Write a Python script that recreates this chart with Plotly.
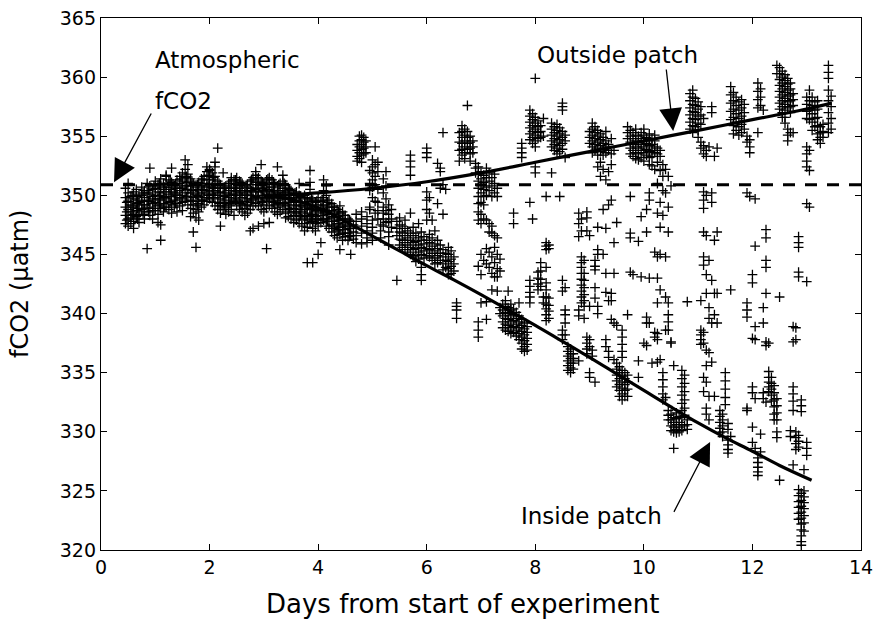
import plotly.graph_objects as go

# ---------------- data ----------------
# Each streak: (day, [fCO2 values in uatm]) -- measurements are plotted as "+" markers.
band_streaks = [
    (0.45, [350.6, 349.8, 349.0, 348.3, 347.6]),
    (0.50, [350.2, 349.5, 348.8, 348.0, 347.4, 351.0]),
    (0.55, [349.9, 349.2, 348.6, 348.1, 347.6]),
    (0.60, [350.3, 349.7, 349.0, 348.4, 347.8, 347.2]),
    (0.65, [350.5, 349.9, 349.3, 348.7, 348.2]),
    (0.70, [350.1, 349.4, 348.9, 348.3, 347.7]),
    (0.75, [350.7, 350.0, 349.5, 348.8]),
    (0.80, [350.4, 349.8, 349.2, 348.6, 348.0]),
    (0.85, [351.0, 350.2, 349.6, 349.0, 345.5]),
    (0.90, [350.8, 350.1, 349.5, 348.9, 348.3, 352.3]),
    (0.95, [350.5, 349.9, 349.3, 348.7, 348.0]),
    (1.00, [351.2, 350.6, 350.0, 349.4, 348.7]),
    (1.05, [350.9, 350.3, 349.7, 349.1, 348.4, 347.7]),
    (1.10, [351.4, 350.8, 350.2, 349.6, 348.9, 346.2, 347.5]),
    (1.15, [351.0, 350.5, 349.9, 349.3, 348.6]),
    (1.20, [351.6, 350.9, 350.3, 349.7, 349.0, 351.7]),
    (1.25, [351.3, 350.7, 350.1, 349.4, 348.8]),
    (1.30, [351.1, 350.5, 349.9, 349.2, 348.5, 352.3]),
    (1.35, [350.8, 350.2, 349.6, 349.0]),
    (1.40, [351.3, 350.6, 350.0, 349.3, 348.6]),
    (1.45, [351.6, 351.0, 350.4, 349.8, 349.1]),
    (1.50, [351.9, 351.2, 350.6, 350.0, 349.4, 348.7]),
    (1.55, [352.2, 351.5, 350.8, 350.2, 349.5, 353.0]),
    (1.60, [351.8, 351.1, 350.5, 349.9, 349.2, 352.6]),
    (1.65, [351.4, 350.8, 350.2, 349.6, 348.9, 348.2]),
    (1.70, [351.0, 350.4, 349.8, 349.2, 348.5, 346.9]),
    (1.75, [350.7, 350.1, 349.5, 348.8, 348.1, 345.6]),
    (1.80, [351.1, 350.5, 349.9, 349.3, 348.6, 347.9]),
    (1.85, [351.4, 350.8, 350.2, 349.6, 349.0]),
    (1.90, [351.6, 351.0, 350.4, 349.8, 349.2]),
    (1.95, [352.0, 351.3, 350.7, 350.1, 349.5, 352.4]),
    (2.00, [352.2, 351.6, 350.9, 350.3, 349.7, 352.1]),
    (2.05, [351.9, 351.3, 350.7, 350.1, 349.4]),
    (2.10, [351.6, 351.0, 350.4, 349.8, 349.1, 352.8, 352.4]),
    (2.15, [351.2, 350.6, 350.0, 349.4, 348.8, 354.0]),
    (2.20, [350.9, 350.3, 349.7, 349.1, 348.5, 347.4]),
    (2.25, [350.6, 350.0, 349.4, 348.8, 351.9]),
    (2.30, [350.8, 350.2, 349.6, 349.0, 348.4]),
    (2.35, [351.0, 350.4, 349.8, 349.2, 348.6]),
    (2.40, [351.2, 350.6, 350.0, 349.4, 348.8, 351.5]),
    (2.45, [351.3, 350.7, 350.1, 349.5, 348.3]),
    (2.50, [351.5, 350.9, 350.3, 349.7, 349.1]),
    (2.55, [351.2, 350.6, 350.0, 349.4, 348.8]),
    (2.60, [351.0, 350.4, 349.8, 349.2, 348.6]),
    (2.65, [350.7, 350.1, 349.5, 348.9, 348.3]),
    (2.70, [350.9, 350.3, 349.7, 349.1, 348.5]),
    (2.75, [351.2, 350.6, 350.0, 349.4, 348.8, 347.0]),
    (2.80, [351.5, 350.9, 350.3, 349.7, 349.1, 347.2]),
    (2.85, [351.7, 351.1, 350.5, 349.9, 349.3, 352.0]),
    (2.90, [351.5, 350.9, 350.3, 349.7, 349.1, 347.4]),
    (2.95, [351.2, 350.6, 350.0, 349.4, 348.8, 352.6]),
    (3.00, [351.0, 350.4, 349.8, 349.2, 348.6, 347.6]),
    (3.05, [351.3, 350.7, 350.1, 349.5, 348.9, 345.5]),
    (3.10, [351.5, 350.9, 350.3, 349.7, 349.1, 347.7]),
    (3.15, [351.3, 350.7, 350.1, 349.5, 348.9]),
    (3.20, [351.0, 350.4, 349.8, 349.2, 348.6]),
    (3.25, [350.8, 350.2, 349.6, 349.0, 348.4, 352.4]),
    (3.30, [351.0, 350.4, 349.8, 349.2, 348.6]),
    (3.35, [351.2, 350.6, 350.0, 349.4, 348.8, 351.7]),
    (3.40, [350.9, 350.3, 349.7, 349.1, 348.5, 348.1]),
    (3.45, [350.6, 350.0, 349.4, 348.8, 348.2]),
    (3.50, [350.4, 349.8, 349.2, 348.6, 348.0]),
    (3.55, [350.1, 349.5, 348.9, 348.3, 347.7]),
    (3.60, [350.3, 349.7, 349.1, 348.5, 347.9]),
    (3.65, [350.0, 349.4, 348.8, 348.2, 347.6, 351.0]),
    (3.70, [349.8, 349.2, 348.6, 348.0, 347.4]),
    (3.75, [350.0, 349.4, 348.8, 348.2, 347.6, 347.0]),
    (3.80, [349.7, 349.1, 348.5, 347.9, 347.3, 344.3]),
    (3.85, [350.5, 349.5, 348.9, 348.3, 347.7, 352.1, 351.1]),
    (3.90, [349.6, 349.0, 348.4, 347.8, 347.2, 344.3]),
    (3.95, [349.4, 348.8, 348.2, 347.6, 347.0]),
    (4.00, [349.8, 349.2, 348.6, 348.0, 347.4, 345.0]),
    (4.05, [349.5, 348.9, 348.3, 347.7, 346.0]),
    (4.10, [350.4, 349.8, 349.1, 348.5, 347.9, 351.3]),
    (4.15, [350.8, 350.0, 349.2, 348.6, 348.0, 347.4]),
    (4.20, [349.6, 349.0, 348.4, 347.8, 347.2]),
    (4.25, [349.3, 348.7, 348.1, 347.5, 346.9]),
    (4.30, [349.0, 348.4, 347.8, 347.2, 346.6]),
    (4.35, [348.8, 348.2, 347.6, 347.0, 346.4]),
    (4.40, [349.1, 348.5, 347.9, 347.3, 346.7, 345.4]),
    (4.45, [348.6, 348.0, 347.4, 346.8, 346.2]),
    (4.50, [348.3, 347.7, 347.1, 346.5]),
    (4.55, [348.0, 347.4, 346.8, 346.2]),
    (4.60, [347.8, 347.2, 346.6, 345.0]),
    (4.65, [347.5, 346.9, 346.3]),
]

# extra readings inside the dense early band (between the streaks above)
band_fill_streaks = [
    (0.475, [349.4, 348.6, 347.9]),
    (0.575, [350.0, 349.1, 348.3]),
    (0.675, [349.6, 348.9, 348.0]),
    (0.775, [350.2, 349.2, 348.4]),
    (0.875, [350.4, 349.5, 348.6]),
    (0.975, [350.8, 349.7, 348.9]),
    (1.075, [351.0, 350.0, 349.2]),
    (1.175, [350.7, 349.8, 349.0]),
    (1.275, [351.2, 350.3, 349.5]),
    (1.375, [351.0, 350.1, 349.3]),
    (1.475, [351.4, 350.6, 349.7]),
    (1.575, [351.6, 350.8, 349.9]),
    (1.675, [351.2, 350.4, 349.5]),
    (1.775, [350.9, 350.0, 349.1]),
    (1.875, [351.3, 350.5, 349.6]),
    (1.975, [351.7, 350.8, 350.0]),
    (2.075, [351.5, 350.6, 349.8]),
    (2.175, [351.0, 350.2, 349.3]),
    (2.275, [350.7, 349.9, 349.1]),
    (2.375, [351.0, 350.1, 349.3]),
    (2.475, [351.3, 350.4, 349.6]),
    (2.575, [351.1, 350.2, 349.3]),
    (2.675, [350.8, 350.0, 349.2]),
    (2.775, [351.3, 350.4, 349.6]),
    (2.875, [351.4, 350.6, 349.8]),
    (2.975, [351.1, 350.3, 349.5]),
    (3.075, [351.4, 350.5, 349.7]),
    (3.175, [351.1, 350.3, 349.4]),
    (3.275, [350.9, 350.1, 349.3]),
    (3.375, [351.0, 350.2, 349.3]),
    (3.475, [350.5, 349.7, 348.9]),
    (3.575, [350.2, 349.4, 348.6]),
    (3.675, [349.9, 349.1, 348.3]),
    (3.775, [349.8, 349.0, 348.2]),
    (3.875, [349.7, 348.8, 348.0]),
    (3.975, [349.5, 348.7, 347.9]),
    (4.075, [349.6, 348.8, 348.0]),
    (4.175, [349.4, 348.6, 347.8]),
    (4.275, [349.0, 348.2, 347.4]),
    (4.375, [348.6, 347.9, 347.1]),
    (4.475, [348.3, 347.5, 346.8]),
    (4.575, [347.9, 347.2, 346.5]),
]

mid_streaks = [
    (4.70, [348.4, 347.8, 347.2, 346.6, 346.0]),
    (4.72, [354.3, 353.8, 353.3, 352.9]),
    (4.76, [355.0, 354.6, 354.1, 353.6, 353.1]),
    (4.80, [355.1, 354.7, 354.3, 353.9, 353.4, 352.8, 348.6, 348.0, 347.4, 346.8, 345.9]),
    (4.84, [354.9, 354.5, 354.0, 353.5]),
    (4.88, [354.6, 354.1, 353.6]),
    (4.90, [348.2, 347.6, 347.0, 346.4, 346.0]),
    (4.95, [352.1, 351.0, 350.4, 349.0, 348.8]),
    (5.00, [353.0, 352.4, 351.9, 351.3, 350.7, 349.8, 347.9, 347.3, 346.8, 346.2]),
    (5.05, [354.1, 352.6, 351.6, 350.9, 349.5, 348.5]),
    (5.10, [352.8, 352.0, 350.5, 349.4, 348.7, 348.0]),
    (5.15, [347.5, 347.0, 346.4]),
    (5.20, [351.4, 350.2, 349.0, 348.5, 348.0, 347.4]),
    (5.25, [352.0, 350.8, 349.7, 348.7, 347.7]),
    (5.30, [349.2, 348.4, 347.8, 346.9, 346.5, 345.8]),
    (5.35, [348.8, 348.0, 347.3]),
    (5.45, [347.8, 347.2, 346.6, 342.8]),
    (5.50, [348.1, 347.5, 346.9, 346.3, 345.8]),
    (5.55, [347.4, 346.8, 346.2, 345.6]),
    (5.60, [347.9, 347.2, 346.6, 346.0, 345.4]),
    (5.65, [347.0, 346.4, 345.8, 345.2]),
    (5.70, [353.4, 352.9, 352.4, 351.7, 348.5, 346.8, 346.2, 345.6, 345.0]),
    (5.75, [347.3, 346.6, 346.0, 345.4, 344.8]),
    (5.80, [346.8, 346.1, 345.5, 344.9, 344.4]),
    (5.85, [347.6, 346.4, 345.8, 345.2, 344.6]),
    (5.90, [346.9, 346.2, 345.6, 345.0, 343.9, 343.3, 342.8]),
    (5.95, [346.5, 345.9, 345.3, 344.7]),
    (6.00, [354.0, 353.6, 353.2, 350.3, 349.6, 348.8, 347.9, 346.2, 345.5, 344.9]),
    (6.05, [349.8, 348.5, 346.7, 346.0, 345.4, 344.8]),
    (6.10, [347.9, 346.4, 345.7, 345.1, 344.5]),
    (6.15, [347.0, 345.9, 345.3, 344.7, 344.2]),
    (6.20, [352.7, 349.3, 346.2, 345.5, 344.9, 344.3]),
    (6.25, [352.3, 352.0, 350.6, 345.8, 345.1, 344.5]),
    (6.30, [355.3, 350.9, 348.4, 345.4, 344.8, 344.2, 343.7]),
    (6.35, [350.5, 345.1, 344.5, 343.9]),
    (6.40, [345.6, 345.0, 344.4, 343.8, 343.3]),
    (6.45, [345.3, 344.6, 344.0, 343.4]),
    (6.50, [344.8, 344.2, 343.6]),
    (6.55, [340.9, 340.6, 340.3, 339.6]),
    (6.60, [355.3, 354.5, 353.8, 352.9]),
    (6.65, [355.9, 355.4, 354.9, 354.4, 353.9, 353.4]),
    (6.70, [355.6, 355.1, 354.6, 354.1, 353.6, 353.1]),
    (6.75, [357.6, 355.4, 354.9, 354.4, 353.9]),
    (6.80, [355.0, 354.5, 354.0, 353.5, 352.9]),
    (6.85, [354.6, 354.1, 353.6]),
    (6.90, [352.7, 352.3, 351.9]),
    (6.95, [352.4, 351.8, 351.2, 350.6, 349.9, 349.3, 348.6, 347.9, 344.0, 339.3, 338.6, 338.0]),
    (7.00, [352.0, 351.4, 350.8, 350.2, 349.4, 348.4, 347.6, 345.0, 343.3, 340.9]),
    (7.05, [351.7, 351.1, 350.5, 349.9, 349.2, 348.0, 344.5]),
    (7.10, [352.3, 351.5, 350.7, 350.0, 347.9, 345.5, 344.2, 341.0, 339.5]),
    (7.15, [351.9, 351.2, 350.4, 347.6, 346.9, 345.2, 343.9]),
    (7.20, [351.5, 350.8, 349.9, 347.4, 346.8, 344.8, 343.4, 342.0]),
    (7.25, [351.8, 351.0, 350.2, 346.6, 345.6, 344.3, 343.1]),
    (7.30, [350.6, 349.9, 346.4, 345.0, 343.8, 343.1, 341.9]),
    (7.35, [344.6, 343.6, 340.5, 340.0]),
]

late_streaks = [
    (7.40, [340.8, 340.3, 339.8, 339.3, 338.8]),
    (7.45, [341.1, 340.6, 340.1, 339.6, 339.1, 338.6]),
    (7.50, [340.5, 340.0, 339.5, 339.0, 338.5, 341.9]),
    (7.55, [340.8, 340.3, 339.8, 339.3, 338.8, 338.3]),
    (7.60, [340.4, 339.9, 339.4, 338.9, 338.4, 348.5, 347.6]),
    (7.65, [340.1, 339.6, 339.1, 338.6, 338.1]),
    (7.70, [340.9, 339.8, 339.3, 338.8, 338.3, 337.8]),
    (7.75, [339.5, 339.0, 338.5, 338.0, 337.5, 337.0, 354.4, 354.0, 353.6, 353.2]),
    (7.80, [339.2, 338.7, 338.2, 337.7, 337.2, 336.8]),
    (7.85, [338.9, 338.4, 337.9, 337.4, 336.9]),
    (7.90, [342.8, 342.3, 341.8, 341.4, 340.9, 349.4, 357.2, 356.7, 356.2, 355.7, 355.2, 354.7]),
    (7.95, [356.9, 356.4, 355.9, 355.4, 354.9, 354.4, 348.0]),
    (8.00, [359.9, 356.6, 356.1, 355.6, 355.1, 354.6, 354.1, 352.4, 351.9]),
    (8.05, [356.3, 355.8, 355.3, 354.8, 343.5, 343.0, 342.5, 342.0]),
    (8.10, [355.9, 355.4, 354.9, 344.3, 343.6, 342.9, 342.3]),
    (8.15, [356.5, 355.0, 341.4, 340.9]),
    (8.20, [349.9, 346.0, 345.7, 345.4, 343.9, 342.6, 342.0, 341.4, 340.8, 340.4, 339.9, 339.4]),
    (8.25, [341.3, 340.7, 340.2, 339.6, 345.8, 345.5]),
    (8.30, [356.1, 355.6, 355.1, 354.6, 354.1, 351.9]),
    (8.35, [355.8, 355.3, 354.8, 354.3, 353.8]),
    (8.40, [356.0, 355.5, 355.0, 354.5, 354.0, 353.5]),
    (8.45, [355.7, 355.2, 354.7, 354.2, 353.7, 349.9]),
    (8.50, [357.8, 357.5, 357.2, 355.4, 354.9, 354.4, 353.9, 342.8, 341.9, 338.6, 338.2, 337.8]),
    (8.55, [355.1, 354.6, 353.2, 342.2, 340.3, 339.9, 339.2, 338.2]),
    (8.60, [337.2, 336.8, 336.4, 336.0, 335.6, 335.2]),
    (8.65, [337.0, 336.6, 336.2, 335.8, 335.4, 335.0]),
    (8.70, [336.6, 336.2, 335.8, 335.3]),
    (8.80, [348.5, 347.6, 346.5, 340.3, 339.8, 336.0]),
    (8.85, [344.8, 344.3, 343.9, 343.4, 342.9, 342.4, 341.9, 341.4, 340.9, 348.0, 347.0]),
    (8.90, [344.5, 343.4, 342.8, 342.2, 341.6, 341.1, 340.6, 339.6]),
    (8.95, [348.6, 348.1, 347.0, 338.0, 337.5, 337.0, 336.6]),
    (9.00, [355.4, 354.9, 354.4, 346.6, 340.6, 337.8, 337.2, 335.0, 334.6]),
    (9.05, [356.1, 355.6, 355.1, 354.6, 354.1, 353.6, 336.9, 336.4]),
    (9.10, [355.8, 355.3, 354.8, 354.3, 353.8, 344.5, 344.0, 343.7, 342.2, 341.3, 334.2]),
    (9.15, [355.5, 355.0, 354.5, 354.0, 353.4, 352.4, 347.3, 345.4, 345.0, 340.6, 340.0]),
    (9.20, [355.2, 354.7, 354.2, 353.7, 352.8, 351.6]),
    (9.25, [354.9, 354.4, 353.9, 353.4, 352.2, 348.8, 345.0]),
    (9.30, [355.4, 354.6, 354.1, 353.6, 351.3, 347.2, 343.4, 341.8, 337.8, 337.2]),
    (9.35, [354.3, 353.8, 352.0, 349.2, 341.1, 336.8, 336.3]),
    (9.40, [354.8, 353.5, 352.6, 349.6, 341.7, 341.1, 339.5]),
    (9.45, [353.8, 346.0, 343.4, 339.2, 336.1]),
    (9.50, [347.7, 339.0, 335.8, 335.3, 334.8, 334.3, 333.8]),
    (9.55, [335.5, 335.0, 334.5, 334.0, 333.5, 333.0]),
    (9.60, [338.6, 338.0, 337.4, 336.8, 336.3, 335.2, 334.7, 334.2, 333.7, 333.2, 332.7]),
    (9.65, [335.0, 334.5, 334.0, 333.5, 333.0]),
    (9.70, [355.8, 355.3, 354.8, 339.9, 334.8, 334.2, 333.6, 333.0]),
    (9.75, [355.5, 355.0, 354.5, 354.0, 353.5, 349.9, 346.8, 346.4, 343.5]),
    (9.80, [355.3, 354.8, 354.3, 353.8, 353.3, 343.3]),
    (9.85, [355.6, 355.1, 354.6, 354.1, 353.6, 353.1]),
    (9.90, [355.0, 354.5, 354.0, 353.5, 353.0, 346.1, 336.0, 334.6]),
    (9.95, [355.3, 354.8, 354.3, 353.8, 353.2, 348.2, 343.1]),
    (10.00, [355.6, 355.1, 354.6, 354.1, 353.6, 352.9, 337.5]),
    (10.05, [354.9, 354.4, 353.9, 353.4, 348.8, 346.9, 339.7, 339.2, 337.3]),
    (10.10, [355.2, 354.7, 354.2, 353.7, 353.2, 352.6, 350.2, 349.6, 343.0, 339.2]),
    (10.15, [354.8, 354.3, 353.8, 353.3, 352.5, 335.8]),
    (10.20, [355.1, 354.6, 354.1, 353.6, 352.2, 345.2, 338.4, 338.0]),
    (10.25, [354.0, 353.5, 352.8, 351.0, 348.5, 344.8, 343.0, 340.9, 338.3, 337.8, 335.9]),
    (10.30, [353.8, 353.3, 352.1, 349.4, 347.3, 345.0, 342.0, 336.1]),
    (10.35, [352.6, 351.6, 350.4, 348.3, 335.0, 334.4, 333.8, 333.2, 332.7]),
    (10.40, [352.2, 350.2, 344.8, 341.4, 338.6, 332.9]),
    (10.45, [351.6, 349.0, 346.9, 340.9, 339.9, 339.3, 338.6, 331.8, 331.4, 331.0]),
    (10.50, [350.8, 337.5, 337.6, 331.5, 331.0, 330.5, 330.1]),
    (10.55, [335.6, 331.2, 330.8, 330.4, 330.0, 328.6]),
    (10.60, [331.6, 331.1, 330.6, 330.2, 329.9]),
    (10.65, [331.3, 330.8, 330.4, 330.0]),
    (10.70, [335.2, 334.5, 333.8, 333.1, 332.4, 331.8, 331.2, 330.6, 330.1]),
    (10.75, [334.8, 334.1, 333.4, 332.7, 332.0, 331.4, 330.5]),
    (10.80, [341.0, 331.0, 330.6, 330.2]),
]

east_streaks = [
    (10.85, [358.6, 358.0, 357.4, 356.8, 356.2, 355.6]),
    (10.90, [358.9, 358.3, 357.7, 357.1, 356.5, 355.9, 355.3]),
    (10.95, [358.2, 357.6, 357.0, 356.4, 355.8]),
    (11.00, [357.9, 357.3, 356.7, 356.1, 355.5, 354.9]),
    (11.05, [357.5, 356.8, 356.0, 354.5, 354.0, 341.1, 338.6, 338.2, 337.8, 337.4]),
    (11.10, [356.5, 354.2, 353.5, 350.3, 349.6, 348.9, 346.9, 344.8, 344.1, 338.4, 337.5, 334.6, 333.4]),
    (11.15, [353.8, 353.3, 350.0, 346.6, 343.3, 341.7, 336.9, 335.6, 334.2, 332.0, 331.5]),
    (11.20, [354.1, 344.5, 340.5, 339.6, 336.7, 333.0, 331.0]),
    (11.25, [357.5, 357.0, 350.2, 349.4, 342.8, 339.2, 335.9]),
    (11.30, [353.3, 346.2, 341.7, 339.9, 333.0]),
    (11.35, [354.0, 346.9, 341.7, 339.2]),
    (11.40, [331.8, 331.3, 330.8, 330.3, 329.9]),
    (11.45, [331.5, 331.0, 330.5, 330.0, 329.6]),
    (11.50, [335.0, 334.3, 333.6, 332.9, 332.3]),
    (11.55, [329.3, 328.9, 328.5, 328.2, 330.7, 330.2]),
    (11.60, [359.2, 358.5, 357.8, 357.1, 356.4, 342.0, 329.6]),
    (11.65, [358.7, 358.0, 357.3, 356.6, 355.9, 355.2]),
    (11.70, [358.3, 357.6, 356.9, 356.2, 355.5]),
    (11.75, [357.9, 357.2, 356.5, 355.8, 355.1]),
    (11.80, [358.1, 357.4, 356.7, 356.0, 355.3]),
    (11.85, [357.7, 357.0, 356.3, 355.6]),
    (11.90, [355.0, 354.5, 350.2, 340.9, 340.3, 339.7, 332.0, 331.8]),
    (11.95, [354.7, 354.1, 353.6, 349.9]),
    (12.00, [343.3, 342.6, 337.9, 333.8, 333.3, 330.4, 329.1]),
    (12.05, [349.7, 345.7, 338.9, 337.8, 332.8, 328.6]),
    (12.10, [359.5, 358.8, 358.1, 357.4, 355.3, 327.8, 327.4, 327.0, 326.6, 326.3]),
    (12.15, [359.0, 358.3, 357.6, 329.8, 328.3]),
    (12.20, [357.2, 340.5, 339.2, 333.3, 332.8]),
    (12.25, [347.1, 346.4, 344.5, 343.9, 341.7, 337.6, 337.3, 332.5]),
    (12.30, [335.1, 334.6, 334.2, 333.8, 333.4, 337.5]),
    (12.35, [334.6, 334.1, 333.6, 333.1, 332.6]),
    (12.40, [333.9, 333.3, 332.7, 332.1, 331.5, 331.0]),
    (12.45, [332.8, 332.2, 331.6, 331.0, 330.0, 329.5, 361.0, 360.3]),
    (12.50, [360.8, 360.3, 359.8, 359.3, 358.8, 358.3, 357.8, 357.3, 341.4, 325.9]),
    (12.55, [360.5, 360.0, 359.5, 359.0, 358.5, 358.0, 357.5, 357.0, 356.6]),
    (12.60, [360.2, 359.7, 359.2, 358.7, 358.2, 357.7, 357.2, 356.6, 356.1]),
    (12.65, [359.9, 359.4, 358.9, 358.4, 357.9, 357.4, 355.6, 355.1, 354.6]),
    (12.70, [359.5, 359.0, 358.5, 358.0, 357.5, 357.0, 355.3, 330.1, 329.6]),
    (12.75, [358.6, 358.1, 357.6, 355.3, 333.8, 333.2, 332.6, 331.8, 338.9, 337.6, 327.2]),
    (12.80, [330.0, 329.5, 329.0, 328.5, 338.8, 337.8]),
    (12.85, [346.5, 346.0, 345.6, 343.5, 343.1, 329.7, 329.2, 328.7, 325.1, 324.6, 324.1, 323.6, 323.1, 322.6]),
    (12.90, [332.7, 332.2, 331.7, 324.8, 324.2, 323.7, 323.2, 322.7, 322.2, 321.7, 321.2, 320.7, 320.4]),
    (12.95, [325.0, 324.5, 324.0, 323.5, 322.9, 322.3, 321.6, 326.8]),
    (13.00, [354.1, 353.5, 352.9, 352.4, 349.3, 342.7, 329.1, 328.6, 328.0, 358.3, 357.7, 357.1, 356.5]),
    (13.05, [353.8, 352.1, 349.0, 358.9, 358.0, 357.2, 356.4]),
    (13.10, [358.3, 357.6, 356.9, 356.2, 355.5]),
    (13.15, [357.9, 357.2, 356.5, 355.8]),
    (13.20, [358.0, 357.3, 356.6, 355.9, 355.2, 354.7]),
    (13.25, [355.8, 355.3, 354.9, 354.4]),
    (13.30, [356.0, 355.4, 354.9]),
    (13.40, [361.0, 360.4, 359.9, 358.9, 358.0, 357.0, 356.1, 355.3]),
    (13.45, [358.4, 357.5, 356.5, 355.6]),
]

# Fitted curves
outside_days = [3.0, 4.0, 5.0, 6.0, 7.0, 8.0, 9.0, 10.0, 11.0, 12.0, 13.0, 13.46]
outside_fco2 = [349.9, 350.2, 350.6, 351.15, 351.9, 352.8, 353.7, 354.6, 355.5, 356.4, 357.3, 357.8]

inside_days = [3.0, 3.5, 4.0, 4.5, 5.0, 5.5, 6.0, 6.5, 7.0, 7.5, 8.0, 8.5, 9.0, 9.5,
               10.0, 10.5, 11.0, 11.5, 12.0, 12.5, 13.09]
inside_fco2 = [349.95, 349.65, 348.95, 347.8, 346.55, 345.3, 344.05, 342.85, 341.6, 340.3,
               339.0, 337.65, 336.3, 334.9, 333.5, 332.1, 330.75, 329.5, 328.35, 327.15, 325.9]

# Atmospheric fCO2 level (dashed)
atm_days = [0, 14]
atm_fco2 = [350.9, 350.9]

x_ticks = [0, 2, 4, 6, 8, 10, 12, 14]
y_ticks = [320, 325, 330, 335, 340, 345, 350, 355, 360, 365]

# ---------------- build figure ----------------
obs_x, obs_y = [], []
for group in (band_streaks, band_fill_streaks, mid_streaks, late_streaks, east_streaks):
    for d, vals in group:
        for v in vals:
            obs_x.append(d)
            obs_y.append(v)

FONT = "DejaVu Sans"
fig = go.Figure()

fig.add_trace(go.Scatter(
    x=obs_x, y=obs_y, mode="markers",
    marker=dict(symbol="cross-thin", size=7, color="black",
                line=dict(width=1.3, color="black")),
    showlegend=False, hoverinfo="skip"))

fig.add_trace(go.Scatter(
    x=atm_days, y=atm_fco2, mode="lines",
    line=dict(color="black", width=3, dash="12px,10px"),
    showlegend=False, hoverinfo="skip"))

fig.add_trace(go.Scatter(
    x=outside_days, y=outside_fco2, mode="lines",
    line=dict(color="black", width=3.2, shape="spline"),
    showlegend=False, hoverinfo="skip"))

fig.add_trace(go.Scatter(
    x=inside_days, y=inside_fco2, mode="lines",
    line=dict(color="black", width=3.2, shape="spline"),
    showlegend=False, hoverinfo="skip"))

# plot area (in page pixels) is x 101..861, y 18..550
PL, PR, PT, PB = 101, 861, 18, 550
def px_to_paper_x(px):
    return (px - PL) / (PR - PL)
def py_to_paper_y(py):
    return (PB - py) / (PB - PT)

txt = dict(family=FONT, size=23, color="black")
annotations = [
    dict(x=0.96, y=361.45, text="Atmospheric", showarrow=False, xanchor="left",
         yanchor="middle", font=txt),
    dict(x=0.96, y=357.94, text="fCO2", showarrow=False, xanchor="left",
         yanchor="middle", font=txt),
    dict(x=9.51, y=361.87, text="Outside patch", showarrow=False, xanchor="center",
         yanchor="middle", font=txt),
    dict(x=9.03, y=322.9, text="Inside patch", showarrow=False, xanchor="center",
         yanchor="middle", font=txt),
    # arrows
    dict(x=0.24, y=351.1, ax=0.94, ay=357.05, axref="x", ayref="y", text="",
         showarrow=True, arrowhead=2, arrowsize=3.5, arrowwidth=1.3, arrowcolor="black"),
    dict(x=10.54, y=355.44, ax=10.41, ay=360.77, axref="x", ayref="y", text="",
         showarrow=True, arrowhead=2, arrowsize=3.5, arrowwidth=1.3, arrowcolor="black"),
    dict(x=11.22, y=329.13, ax=10.54, ay=323.1, axref="x", ayref="y", text="",
         showarrow=True, arrowhead=2, arrowsize=3.5, arrowwidth=1.3, arrowcolor="black"),
    # axis titles
    dict(x=px_to_paper_x(462), y=py_to_paper_y(604), xref="paper", yref="paper",
         text="Days from start of experiment", showarrow=False,
         xanchor="center", yanchor="middle",
         font=dict(family=FONT, size=26, color="black")),
    dict(x=px_to_paper_x(20), y=py_to_paper_y(284), xref="paper", yref="paper",
         text="fCO2 (µatm)", showarrow=False, xanchor="center", yanchor="middle",
         textangle=-90, font=dict(family=FONT, size=24, color="black")),
]

axis_common = dict(showgrid=False, zeroline=False, showline=True, linecolor="black",
                   linewidth=1.2, mirror="ticks", ticks="inside", ticklen=6,
                   tickwidth=1.2, tickcolor="black", automargin=False,
                   ticklabeloverflow="allow",
                   tickfont=dict(family=FONT, size=19, color="black"))

fig.update_layout(
    width=873, height=621,
    margin=dict(l=PL, r=873 - PR, t=PT, b=621 - PB, autoexpand=False),
    paper_bgcolor="white", plot_bgcolor="white",
    xaxis=dict(range=[0, 14], tickvals=x_ticks, **axis_common),
    yaxis=dict(range=[320, 365], tickvals=y_ticks, **axis_common),
    annotations=annotations,
    showlegend=False,
    hovermode=False,
)

# remove the browser's default 8px page margin so the figure fills the window exactly
fig.write_html("out.html",
               config={"displayModeBar": False, "staticPlot": True},
               post_script="document.body.style.margin='0';document.body.style.overflow='hidden';")
